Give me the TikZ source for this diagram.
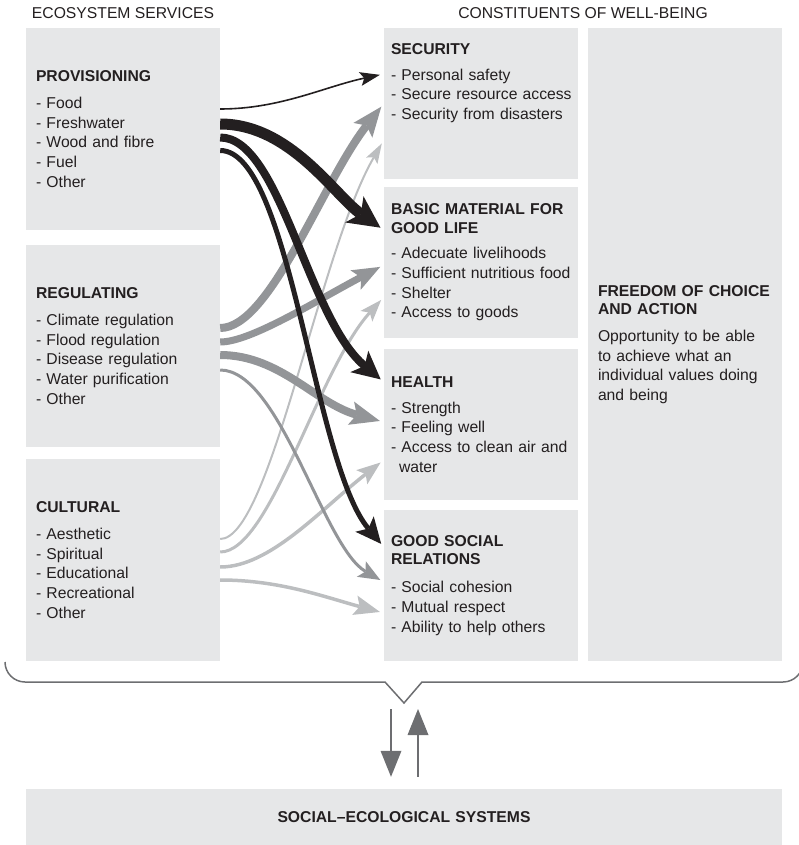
\documentclass[tikz,border=0pt]{standalone}
\usepackage{fontspec}
\setmainfont{Liberation Sans}
\usetikzlibrary{arrows.meta,positioning}
\definecolor{inkblack}{HTML}{231F20}
\definecolor{midgray}{HTML}{939598}
\definecolor{palegray}{HTML}{BCBEC0}
\definecolor{panelgray}{HTML}{E6E7E8}
\definecolor{linegray}{HTML}{6D6E71}
\newcommand{\bodysize}{\fontsize{15.7}{19.7}\selectfont}

\begin{document}
\begin{tikzpicture}[x=1pt,y=1pt,
  panel/.style={fill=panelgray,text=inkblack,font=\bodysize,align=left,minimum width=194pt,inner ysep=0pt,inner xsep=10pt,text width=174pt},
  rpanel/.style={panel,inner xsep=7pt,text width=180pt,minimum height=151pt},
  headtext/.style={font=\bodysize,text=inkblack,anchor=base,inner sep=0pt},
  blackflow/.style={color=inkblack,shorten >=4pt},
  grayflow/.style={color=midgray,shorten >=4pt},
  paleflow/.style={color=palegray,shorten >=4pt}]
\useasboundingbox (0,0) rectangle (798,-845);
\node[headtext] (eshead) at (123,-19) {ECOSYSTEM SERVICES};
\node[headtext] (wbhead) at (583,-19) {CONSTITUENTS OF WELL-BEING};
\node[panel,minimum height=202pt] (prov) at (123,-129) {\textbf{PROVISIONING}\\[7pt]- Food\\- Freshwater\\- Wood and fibre\\- Fuel\\- Other};
\node[panel,minimum height=202pt] (reg) at (123,-346) {\textbf{REGULATING}\\[7pt]- Climate regulation\\- Flood regulation\\- Disease regulation\\- Water purification\\- Other};
\node[panel,minimum height=202pt] (cult) at (123,-560) {\textbf{CULTURAL}\\[7pt]- Aesthetic\\- Spiritual\\- Educational\\- Recreational\\- Other};
\node[rpanel] (sec) at (481,-103.5) {\textbf{SECURITY}\\[6pt]- Personal safety\\\mbox{- Secure resource access}\\- Security from disasters\\[24pt]\mbox{}};
\node[rpanel] (basic) at (481,-262.5) {\textbf{BASIC MATERIAL FOR}\\[-1.5pt]\textbf{GOOD LIFE}\\[6pt]- Adecuate livelihoods\\\mbox{- Sufficient nutritious food}\\- Shelter\\- Access to goods};
\node[rpanel] (health) at (481,-424.5) {\textbf{HEALTH}\\[6pt]- Strength\\- Feeling well\\\mbox{- Access to clean air and}\\\hspace*{8pt}water};
\node[rpanel] (social) at (481,-585.5) {\textbf{GOOD SOCIAL}\\[-1.5pt]\textbf{RELATIONS}\\[8pt]- Social cohesion\\- Mutual respect\\- Ability to help others};
\node[panel,minimum height=633pt] (free) at (685,-344.5) {\textbf{FREEDOM OF CHOICE}\\[-1pt]\textbf{AND ACTION}\\[7pt]Opportunity to be able\\to achieve what an\\individual values doing\\and being};
\node[panel,minimum width=756pt,text width=736pt,align=center,minimum height=56pt] (ses) at (404,-817) {\textbf{SOCIAL--ECOLOGICAL SYSTEMS}};
\draw[paleflow,line width=2pt,-{Stealth[length=20pt,width=13pt,inset=4pt,line width=0pt]}] ([yshift=21pt]cult.east) .. controls +(0:50) and +(240:130) .. ([yshift=-36.5pt]sec.west);
\draw[paleflow,line width=3pt,-{Stealth[length=22pt,width=16pt,inset=5pt,line width=0pt]}] ([yshift=8pt]cult.east) .. controls +(0:50) and +(228:100) .. ([yshift=-34.5pt]basic.west);
\draw[paleflow,line width=3.5pt,-{Stealth[length=24pt,width=18pt,inset=5pt,line width=0pt]}] ([yshift=-7pt]cult.east) .. controls +(0:50) and +(218:80) .. ([yshift=-35.5pt]health.west);
\draw[paleflow,line width=3.5pt,-{Stealth[length=26pt,width=20pt,inset=5pt,line width=0pt]}] ([yshift=-20pt]cult.east) .. controls +(0:60) and +(165:60) .. ([yshift=-27.5pt]social.west);
\draw[grayflow,line width=8pt,-{Stealth[length=30pt,width=24pt,inset=6pt,line width=0pt]}] ([yshift=18pt]reg.east) .. controls +(0:50) and +(232:100) .. (sec.west);
\draw[grayflow,line width=7pt,-{Stealth[length=28pt,width=22pt,inset=6pt,line width=0pt]}] ([yshift=4pt]reg.east) .. controls +(0:30) and +(208:80) .. ([yshift=-2.5pt]basic.west);
\draw[grayflow,line width=8pt,-{Stealth[length=30pt,width=24pt,inset=6pt,line width=0pt]}] ([yshift=-9pt]reg.east) .. controls +(0:60) and +(165:70) .. ([yshift=2.5pt]health.west);
\draw[grayflow,line width=3pt,-{Stealth[length=22pt,width=18pt,inset=5pt,line width=0pt]}] ([yshift=-24pt]reg.east) .. controls +(0:60) and +(150:70) .. ([yshift=3.5pt]social.west);
\draw[blackflow,line width=1.6pt,-{Stealth[length=20pt,width=14pt,inset=4pt,line width=0pt]}] ([yshift=20pt]prov.east) .. controls +(0:60) and +(192:60) .. ([yshift=29.5pt]sec.west);
\draw[blackflow,line width=11pt,-{Stealth[length=32pt,width=32pt,inset=8pt,line width=0pt]}] ([yshift=5pt]prov.east) .. controls +(0:70) and +(145:60) .. ([yshift=32.5pt]basic.west);
\draw[blackflow,line width=8pt,-{Stealth[length=28pt,width=28pt,inset=7pt,line width=0pt]}] ([yshift=-8.5pt]prov.east) .. controls +(0:60) and +(140:100) .. ([yshift=42.5pt]health.west);
\draw[blackflow,line width=5pt,-{Stealth[length=26pt,width=24pt,inset=6pt,line width=0pt]}] ([yshift=-21.5pt]prov.east) .. controls +(0:70) and +(130:110) .. ([yshift=38.5pt]social.west);
\draw[linegray,line width=1.5pt] (5,-662) arc[start angle=180,end angle=270,radius=20] -- (385,-682) -- (404,-703) -- (422,-682) -- (783,-682) arc[start angle=270,end angle=360,radius=20];
\coordinate (dnstart) at (391,-709);
\coordinate (upend) at (418,-709);
\draw[linegray,line width=2.5pt,-{Triangle[length=26pt,width=21pt,line width=0pt]},shorten >=12pt] (dnstart) -- (dnstart |- ses.north);
\draw[linegray,line width=2.5pt,-{Triangle[length=26pt,width=21pt,line width=0pt]},shorten <=12pt] (upend |- ses.north) -- (upend);
\end{tikzpicture}
\end{document}
